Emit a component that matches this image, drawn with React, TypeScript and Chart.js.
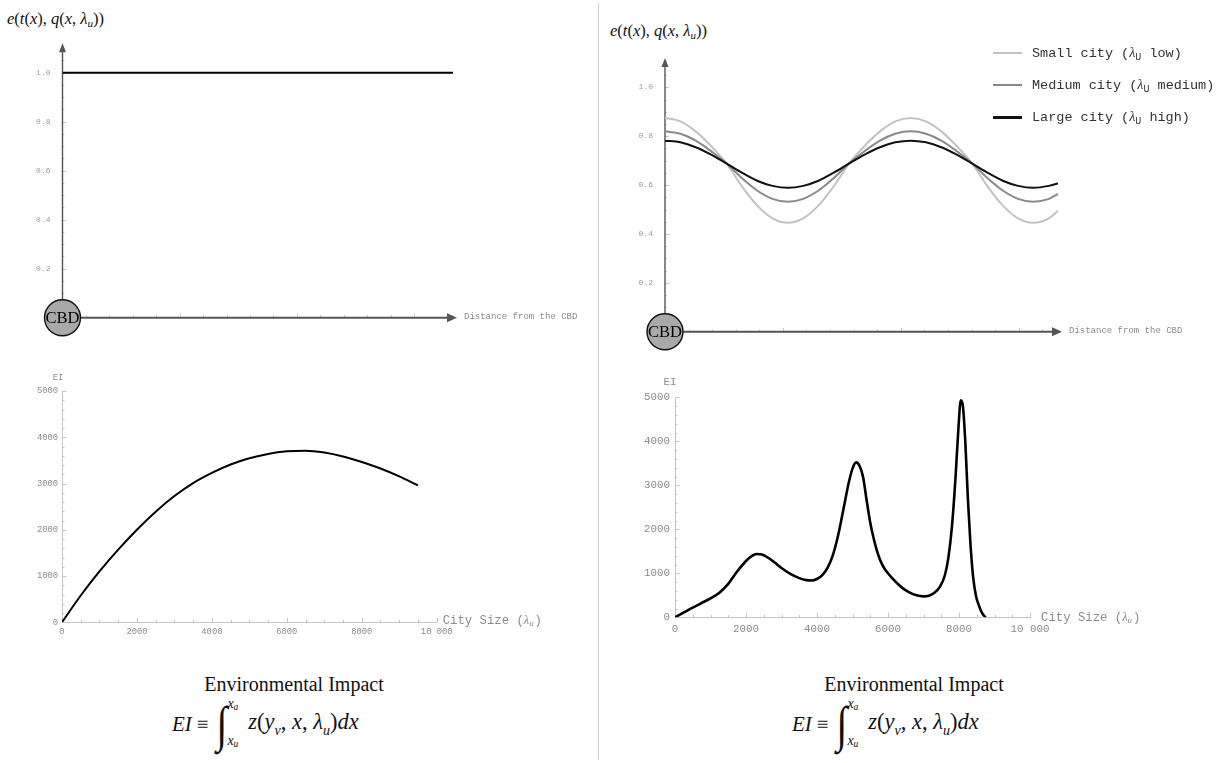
import React, { useEffect, useRef } from 'react';
import { Chart, registerables } from 'chart.js';

Chart.register(...registerables);

const MONO = '"Liberation Mono", "DejaVu Sans Mono", monospace';
const SERIF = '"Liberation Serif", "DejaVu Serif", serif';

// ---------------- Data ----------------
// Top-left panel: uniform emission intensity along distance from the CBD
const flatDistance = [0, 10];
const flatEmission = [1.0, 1.0];

// Top-right panel: emission intensity along distance for three city sizes
const waveDistance = [
  0, 0.3125, 0.625, 0.9375, 1.25, 1.5625, 1.875, 2.1875, 2.5, 2.8125, 3.125, 3.4375, 3.75, 4.0625, 4.375, 4.6875,
  5, 5.3125, 5.625, 5.9375, 6.25, 6.5625, 6.875, 7.1875, 7.5, 7.8125, 8,
];
const smallCity = [
  0.875, 0.861, 0.82, 0.76, 0.689, 0.596, 0.517, 0.464, 0.446, 0.464, 0.517, 0.596, 0.689, 0.76, 0.82, 0.861,
  0.875, 0.861, 0.82, 0.76, 0.689, 0.596, 0.517, 0.464, 0.446, 0.464, 0.495,
];
const mediumCity = [
  0.82, 0.81, 0.782, 0.739, 0.689, 0.629, 0.578, 0.544, 0.532, 0.544, 0.578, 0.629, 0.689, 0.739, 0.782, 0.81,
  0.82, 0.81, 0.782, 0.739, 0.689, 0.629, 0.578, 0.544, 0.532, 0.544, 0.564,
];
const largeCity = [
  0.782, 0.775, 0.755, 0.725, 0.689, 0.651, 0.618, 0.597, 0.589, 0.597, 0.618, 0.651, 0.689, 0.725, 0.755, 0.775,
  0.782, 0.775, 0.755, 0.725, 0.689, 0.651, 0.618, 0.597, 0.589, 0.597, 0.607,
];
const legendNames = ['Small city', 'Medium city', 'Large city'];
const legendLevels = ['low', 'medium', 'high'];
const legendColors = ['#c3c3c3', '#8a8a8a', '#111111'];
const legendWidths = [2, 2.5, 3];

// Bottom-left panel: environmental impact vs city size
const citySizeA = [0, 500, 1000, 1500, 2000, 2500, 3000, 3500, 4000, 4500, 5000, 5500, 6000, 6500, 7000, 7500, 8000, 8500, 9000, 9500];
const eiA = [0, 580, 1100, 1570, 2000, 2390, 2730, 3010, 3230, 3410, 3545, 3640, 3695, 3710, 3670, 3585, 3465, 3325, 3155, 2960];

// Bottom-right panel: environmental impact vs city size
const citySizeB = [
  0, 250, 500, 750, 1000, 1250, 1500, 1750, 2000, 2150, 2300, 2450, 2600, 2800, 3000, 3250, 3500, 3700, 3850, 4000,
  4150, 4300, 4450, 4600, 4750, 4900, 5000, 5100, 5200, 5300, 5400, 5500, 5600, 5700, 5800, 5900, 6000, 6150, 6300,
  6450, 6600, 6800, 7000, 7150, 7300, 7450, 7600, 7700, 7800, 7900, 7980, 8050, 8110, 8180, 8250, 8320, 8400, 8480,
  8560, 8640, 8700, 8750,
];
const eiB = [
  0, 110, 220, 325, 430, 560, 760, 1040, 1280, 1385, 1440, 1425, 1365, 1250, 1120, 985, 890, 845, 835, 870,
  960, 1130, 1420, 1880, 2480, 3080, 3380, 3520, 3440, 3180, 2650, 2150, 1780, 1480, 1260, 1110, 1000, 860, 740,
  640, 565, 500, 475, 490, 550, 680, 950, 1350, 2050, 3150, 4250, 4930, 4800, 3950, 2700, 1700, 900, 480,
  270, 110, 40, 0,
];

const xAxisTitle = 'Distance from the CBD';
const sizeAxisTitle = 'City Size (';
const eiAxisTitle = 'EI';
const cbdText = 'CBD';

const pts = (xs: number[], ys: number[]) => xs.map((x, i) => ({ x, y: ys[i] }));

// ---------------- Plugins ----------------
const cbdAxesPlugin = {
  id: 'cbdAxes',
  beforeDatasetsDraw(chart: any, _a: any, opts: any) {
    const { ctx, chartArea: ca, scales } = chart;
    const xs = scales.x, ys = scales.y;
    const x0 = xs.getPixelForValue(0);
    const y0 = ys.getPixelForValue(0);
    ctx.save();
    ctx.strokeStyle = '#c8c8c8';
    ctx.lineWidth = 1;
    xs.ticks.forEach((t: any, i: number) => {
      if (i === 0) return;
      const px = Math.round(xs.getPixelForValue(t.value)) + 0.5;
      ctx.beginPath();
      ctx.moveTo(px, y0);
      ctx.lineTo(px, y0 - (i % 5 === 0 ? 4 : 2.5));
      ctx.stroke();
    });
    ys.ticks.forEach((t: any, i: number) => {
      if (i === 0) return;
      const py = Math.round(ys.getPixelForValue(t.value)) + 0.5;
      ctx.beginPath();
      ctx.moveTo(x0, py);
      ctx.lineTo(x0 + (t.label ? 4 : 2), py);
      ctx.stroke();
    });
    const xTip = ca.right + opts.arrowOver;
    const yTip = ca.top - 5;
    ctx.strokeStyle = '#555';
    ctx.fillStyle = '#555';
    ctx.lineWidth = 2;
    ctx.beginPath();
    ctx.moveTo(x0, y0);
    ctx.lineTo(xTip - 8, y0);
    ctx.stroke();
    ctx.beginPath();
    ctx.moveTo(xTip, y0);
    ctx.lineTo(xTip - 10, y0 - 4.5);
    ctx.lineTo(xTip - 10, y0 + 4.5);
    ctx.closePath();
    ctx.fill();
    ctx.lineWidth = 1.4;
    ctx.beginPath();
    ctx.moveTo(x0, y0);
    ctx.lineTo(x0, yTip + 8);
    ctx.stroke();
    ctx.beginPath();
    ctx.moveTo(x0, yTip);
    ctx.lineTo(x0 - 3.5, yTip + 9);
    ctx.lineTo(x0 + 3.5, yTip + 9);
    ctx.closePath();
    ctx.fill();
    ctx.font = `9px ${MONO}`;
    ctx.fillStyle = '#8c8c8c';
    ctx.textBaseline = 'middle';
    ctx.textAlign = 'left';
    ctx.fillText(xAxisTitle, xTip + 7, y0 - 1);
    ctx.restore();
  },
  afterDatasetsDraw(chart: any) {
    const { ctx, scales } = chart;
    const cx = scales.x.getPixelForValue(0);
    const cy = scales.y.getPixelForValue(0);
    ctx.save();
    ctx.beginPath();
    ctx.arc(cx, cy, 18, 0, Math.PI * 2);
    ctx.fillStyle = '#a9a9a9';
    ctx.fill();
    ctx.lineWidth = 1.4;
    ctx.strokeStyle = '#111';
    ctx.stroke();
    ctx.font = `17px ${SERIF}`;
    const w = ctx.measureText(cbdText).width;
    const s = Math.min(1, 34 / w);
    ctx.translate(cx, cy + 1);
    ctx.scale(s, 1);
    ctx.fillStyle = '#000';
    ctx.textAlign = 'center';
    ctx.textBaseline = 'middle';
    ctx.fillText(cbdText, 0, 0);
    ctx.restore();
  },
};

const eiAxesPlugin = {
  id: 'eiAxes',
  beforeDatasetsDraw(chart: any, _a: any, opts: any) {
    const { ctx, chartArea: ca, scales } = chart;
    const xs = scales.x, ys = scales.y;
    ctx.save();
    ctx.strokeStyle = '#c4c4c4';
    ctx.lineWidth = 1;
    xs.ticks.forEach((t: any) => {
      const px = Math.round(xs.getPixelForValue(t.value)) + 0.5;
      ctx.beginPath();
      ctx.moveTo(px, ca.bottom);
      ctx.lineTo(px, ca.bottom - (t.label ? 4.5 : 2.5));
      ctx.stroke();
    });
    ys.ticks.forEach((t: any) => {
      const py = Math.round(ys.getPixelForValue(t.value)) + 0.5;
      ctx.beginPath();
      ctx.moveTo(ca.left, py);
      ctx.lineTo(ca.left + (t.label ? 4.5 : 2.5), py);
      ctx.stroke();
    });
    // EI label
    ctx.fillStyle = '#8c8c8c';
    ctx.font = `${opts.smallFont}px ${MONO}`;
    ctx.textAlign = 'center';
    ctx.textBaseline = 'middle';
    ctx.fillText(eiAxisTitle, ca.left + opts.eiDx, ca.top + opts.eiDy);
    // City size label
    ctx.textAlign = 'left';
    ctx.font = `${opts.bigFont}px ${MONO}`;
    let x = ca.right + opts.sizeDx;
    const y = ca.bottom + opts.sizeDy;
    ctx.fillText(sizeAxisTitle, x, y);
    x += ctx.measureText(sizeAxisTitle).width;
    ctx.font = `italic ${opts.bigFont}px ${SERIF}`;
    ctx.fillText('λ', x, y);
    x += ctx.measureText('λ').width;
    ctx.font = `italic ${opts.bigFont * 0.72}px ${SERIF}`;
    ctx.fillText('u', x, y + 3);
    x += ctx.measureText('u').width + 1;
    ctx.font = `${opts.bigFont}px ${MONO}`;
    ctx.fillText(')', x, y);
    ctx.restore();
  },
};

// ---------------- Config builders ----------------
function topConfig(p: any) {
  return {
    type: 'line',
    data: { datasets: p.datasets },
    plugins: [cbdAxesPlugin],
    options: {
      responsive: false,
      animation: false,
      events: [],
      layout: { padding: { top: p.padTop, right: p.padRight, left: 0, bottom: 0 } },
      plugins: {
        legend: { display: false },
        tooltip: { enabled: false },
        cbdAxes: { arrowOver: 4 },
      },
      scales: {
        x: {
          type: 'linear',
          min: 0,
          max: p.xMax,
          grid: { display: false },
          border: { display: false },
          ticks: { stepSize: p.xStep, display: false, autoSkip: false },
          afterFit: (s: any) => { s.height = p.xAxisH; },
        },
        y: {
          type: 'linear',
          min: 0,
          max: 1.1,
          grid: { display: false },
          border: { display: false },
          ticks: {
            stepSize: 0.05,
            autoSkip: false,
            padding: p.labelPad,
            color: '#9a9a9a',
            font: { family: MONO, size: 8 },
            callback: (v: number) => {
              const r = Math.round(v * 100);
              return r > 0 && r % 20 === 0 ? (r / 100).toFixed(1) : '';
            },
          },
          afterFit: (s: any) => { s.width = p.yAxisW; },
        },
      },
    },
  };
}

function bottomConfig(p: any) {
  return {
    type: 'line',
    data: {
      datasets: [
        {
          data: p.data,
          borderColor: '#000',
          borderWidth: p.lineW,
          pointRadius: 0,
          cubicInterpolationMode: 'monotone',
          fill: false,
        },
      ],
    },
    plugins: [eiAxesPlugin],
    options: {
      responsive: false,
      animation: false,
      events: [],
      layout: { padding: { top: p.padTop, right: p.padRight, left: 0, bottom: 0 } },
      plugins: {
        legend: { display: false },
        tooltip: { enabled: false },
        eiAxes: p.labels,
      },
      scales: {
        x: {
          type: 'linear',
          min: 0,
          max: 10000,
          grid: { display: true, drawOnChartArea: false, drawTicks: false },
          border: { display: true, color: '#c8c8c8', width: 1 },
          ticks: {
            stepSize: 500,
            autoSkip: false,
            maxRotation: 0,
            padding: p.xPad,
            color: '#8c8c8c',
            font: { family: MONO, size: p.fontSize },
            callback: (v: number) => (v % 2000 === 0 ? (v === 10000 ? '10 000' : String(v)) : ''),
          },
          afterFit: (s: any) => { s.height = p.xAxisH; },
        },
        y: {
          type: 'linear',
          min: 0,
          max: 5000,
          grid: { display: true, drawOnChartArea: false, drawTicks: false },
          border: { display: true, color: '#c8c8c8', width: 1 },
          ticks: {
            stepSize: 200,
            autoSkip: false,
            padding: p.yPad,
            color: '#8c8c8c',
            font: { family: MONO, size: p.fontSize },
            callback: (v: number) => (v % 1000 === 0 ? String(v) : ''),
          },
          afterFit: (s: any) => { s.width = p.yAxisW; },
        },
      },
    },
  };
}

// ---------------- Components ----------------
function ChartCanvas(props: { left: number; top: number; width: number; height: number; build: () => any }) {
  const ref = useRef<HTMLCanvasElement>(null);
  useEffect(() => {
    const chart = new Chart(ref.current as HTMLCanvasElement, props.build());
    return () => chart.destroy();
  }, []);
  return (
    <canvas
      ref={ref}
      width={props.width}
      height={props.height}
      style={{ position: 'absolute', left: props.left, top: props.top, width: props.width, height: props.height }}
    />
  );
}

function Title(props: { left: number; top: number }) {
  return (
    <div
      style={{
        position: 'absolute',
        left: props.left,
        top: props.top,
        fontFamily: SERIF,
        fontSize: 16.5,
        fontStyle: 'italic',
        whiteSpace: 'nowrap',
        color: '#111',
        lineHeight: '20px',
      }}
    >
      e<span style={{ fontStyle: 'normal' }}>(</span>t<span style={{ fontStyle: 'normal' }}>(</span>x
      <span style={{ fontStyle: 'normal' }}>),</span> q<span style={{ fontStyle: 'normal' }}>(</span>x
      <span style={{ fontStyle: 'normal' }}>,</span> λ
      <sub style={{ fontSize: 11, verticalAlign: '-3px' }}>u</sub>
      <span style={{ fontStyle: 'normal' }}>))</span>
    </div>
  );
}

function Caption(props: { headX: number; formulaLeft: number }) {
  return (
    <>
      <div
        style={{
          position: 'absolute',
          left: props.headX,
          top: 673,
          transform: 'translateX(-50%)',
          fontFamily: SERIF,
          fontSize: 20,
          whiteSpace: 'nowrap',
          color: '#111',
          lineHeight: '22px',
        }}
      >
        Environmental Impact
      </div>
      <div
        style={{
          position: 'absolute',
          left: props.formulaLeft,
          top: 695,
          height: 58,
          fontFamily: SERIF,
          fontSize: 21,
          whiteSpace: 'nowrap',
          color: '#111',
          display: 'flex',
          alignItems: 'center',
        }}
      >
        <span style={{ fontStyle: 'italic' }}>EI</span>
        <span style={{ margin: '0 6px 0 5px' }}>≡</span>
        <span style={{ fontSize: 50, lineHeight: '50px', fontStyle: 'italic', transform: 'scaleX(0.8)' }}>∫</span>
        <span
          style={{
            display: 'inline-flex',
            flexDirection: 'column',
            justifyContent: 'space-between',
            height: 56,
            fontSize: 14,
            fontStyle: 'italic',
            marginLeft: -1,
            marginRight: 10,
            lineHeight: '16px',
          }}
        >
          <span>
            x<sub style={{ fontSize: 9.5, verticalAlign: '-2px' }}>a</sub>
          </span>
          <span>
            x<sub style={{ fontSize: 9.5, verticalAlign: '-2px' }}>u</sub>
          </span>
        </span>
        <span style={{ fontSize: 22.5 }}>
          <i>z</i>(<i>y</i>
          <sub style={{ fontSize: 14, fontStyle: 'italic' }}>v</sub>, <i>x</i>, <i>λ</i>
          <sub style={{ fontSize: 14, fontStyle: 'italic' }}>u</sub>)<i>dx</i>
        </span>
      </div>
    </>
  );
}

function Legend() {
  const rowY = [53, 85, 117];
  return (
    <>
      {legendNames.map((name, i) => (
        <React.Fragment key={name}>
          <div
            style={{
              position: 'absolute',
              left: 993,
              top: rowY[i] - legendWidths[i] / 2,
              width: 29,
              height: legendWidths[i],
              background: legendColors[i],
            }}
          />
          <div
            style={{
              position: 'absolute',
              left: 1032,
              top: rowY[i] - 9,
              fontFamily: MONO,
              fontSize: 13.5,
              lineHeight: '18px',
              color: '#333',
              whiteSpace: 'nowrap',
            }}
          >
            {name} (<i style={{ fontFamily: SERIF, fontSize: 14 }}>λ</i>
            <sub style={{ fontSize: 10, verticalAlign: '-3px' }}>U</sub> {legendLevels[i]})
          </div>
        </React.Fragment>
      ))}
    </>
  );
}

export default function App() {
  const waveSets = [
    { label: legendNames[2], data: pts(waveDistance, largeCity), borderColor: legendColors[2], borderWidth: 2 },
    { label: legendNames[1], data: pts(waveDistance, mediumCity), borderColor: legendColors[1], borderWidth: 2 },
    { label: legendNames[0], data: pts(waveDistance, smallCity), borderColor: legendColors[0], borderWidth: 2 },
  ].map((d) => ({ ...d, pointRadius: 0, cubicInterpolationMode: 'monotone', fill: false }));

  const flatSets = [
    {
      label: 'Uniform',
      data: pts(flatDistance, flatEmission),
      borderColor: '#000',
      borderWidth: 2,
      pointRadius: 0,
      fill: false,
    },
  ];

  return (
    <div style={{ position: 'absolute', left: 0, top: 0, width: 1231, height: 763, background: '#fff', overflow: 'hidden' }}>
      <div style={{ position: 'absolute', left: 598, top: 3, width: 1, height: 757, background: '#cfcfcf' }} />
      <Title left={7} top={9} />
      <Title left={610} top={21} />
      <ChartCanvas
        left={0}
        top={0}
        width={598}
        height={345}
        build={() =>
          topConfig({ datasets: flatSets, xMax: 10, xStep: 0.6, padTop: 48.2, padRight: 145, xAxisH: 27.3, yAxisW: 62.5, labelPad: 4 })
        }
      />
      <ChartCanvas
        left={600}
        top={0}
        width={631}
        height={365}
        build={() =>
          topConfig({ datasets: waveSets, xMax: 8, xStep: 0.48, padTop: 62.9, padRight: 173, xAxisH: 33.2, yAxisW: 65, labelPad: 4 })
        }
      />
      <Legend />
      <ChartCanvas
        left={0}
        top={360}
        width={598}
        height={290}
        build={() =>
          bottomConfig({
            data: pts(citySizeA, eiA),
            lineW: 2,
            padTop: 31,
            padRight: 161.3,
            xAxisH: 27.7,
            yAxisW: 62,
            fontSize: 8.8,
            xPad: 4,
            yPad: 4,
            labels: { smallFont: 8.8, bigFont: 12.3, eiDx: -4, eiDy: -13, sizeDx: 6, sizeDy: -2 },
          })
        }
      />
      <ChartCanvas
        left={600}
        top={360}
        width={631}
        height={290}
        build={() =>
          bottomConfig({
            data: pts(citySizeB, eiB),
            lineW: 2.6,
            padTop: 37.3,
            padRight: 201,
            xAxisH: 32.7,
            yAxisW: 75,
            fontSize: 10.8,
            xPad: 5,
            yPad: 5,
            labels: { smallFont: 10.8, bigFont: 12.3, eiDx: -5, eiDy: -15.5, sizeDx: 11, sizeDy: 0 },
          })
        }
      />
      <Caption headX={294} formulaLeft={172} />
      <Caption headX={914} formulaLeft={792} />
    </div>
  );
}
